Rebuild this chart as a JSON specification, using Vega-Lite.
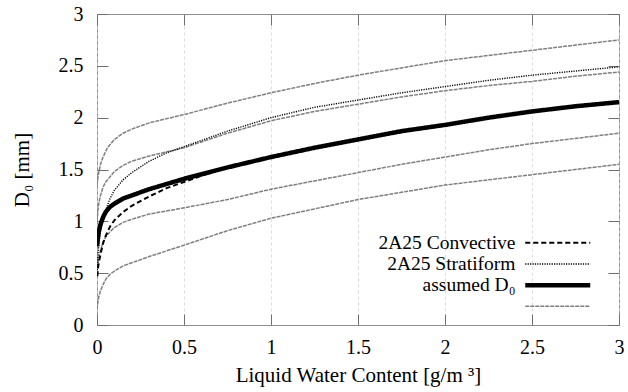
{
  "$schema": "https://vega.github.io/schema/vega-lite/v6.json",
  "width": 522,
  "height": 311,
  "autosize": {"type": "none"},
  "padding": {"left": 97, "top": 14, "right": 9, "bottom": 67},
  "background": "white",
  "config": {
    "view": {"stroke": "#8f8f8f", "strokeWidth": 1},
    "font": "Liberation Serif",
    "axis": {
      "labelFont": "Liberation Serif",
      "titleFont": "Liberation Serif",
      "labelFontSize": 20,
      "titleFontSize": 21,
      "titleFontWeight": "normal",
      "labelColor": "#000",
      "titleColor": "#000",
      "domain": false,
      "tickSize": -11,
      "tickColor": "#6f6f6f",
      "tickWidth": 1,
      "labelPadding": 23,
      "labelFlush": false,
      "labelOverlap": false
    },
    "legend": {
      "labelFont": "Liberation Serif",
      "labelFontSize": 19.5,
      "labelColor": "#000",
      "padding": 0,
      "rowPadding": 0
    }
  },
  "data": {
    "values": [
      {"s":"g1","cat":"other","x":0,"y":1.35},{"s":"g1","cat":"other","x":0.005,"y":1.42},{"s":"g1","cat":"other","x":0.01,"y":1.47},{"s":"g1","cat":"other","x":0.02,"y":1.55},{"s":"g1","cat":"other","x":0.035,"y":1.62},{"s":"g1","cat":"other","x":0.06,"y":1.71},{"s":"g1","cat":"other","x":0.1,"y":1.79},{"s":"g1","cat":"other","x":0.15,"y":1.85},{"s":"g1","cat":"other","x":0.2,"y":1.89},{"s":"g1","cat":"other","x":0.3,"y":1.95},{"s":"g1","cat":"other","x":0.5,"y":2.03},{"s":"g1","cat":"other","x":0.75,"y":2.14},{"s":"g1","cat":"other","x":1.0,"y":2.24},{"s":"g1","cat":"other","x":1.25,"y":2.33},{"s":"g1","cat":"other","x":1.5,"y":2.41},{"s":"g1","cat":"other","x":1.75,"y":2.48},{"s":"g1","cat":"other","x":2.0,"y":2.55},{"s":"g1","cat":"other","x":2.25,"y":2.6},{"s":"g1","cat":"other","x":2.5,"y":2.65},{"s":"g1","cat":"other","x":2.75,"y":2.7},{"s":"g1","cat":"other","x":3,"y":2.75},
      {"s":"g2","cat":"other","x":0,"y":1.0},{"s":"g2","cat":"other","x":0.005,"y":1.1},{"s":"g2","cat":"other","x":0.01,"y":1.17},{"s":"g2","cat":"other","x":0.02,"y":1.25},{"s":"g2","cat":"other","x":0.035,"y":1.33},{"s":"g2","cat":"other","x":0.05,"y":1.38},{"s":"g2","cat":"other","x":0.075,"y":1.43},{"s":"g2","cat":"other","x":0.1,"y":1.48},{"s":"g2","cat":"other","x":0.15,"y":1.54},{"s":"g2","cat":"other","x":0.2,"y":1.58},{"s":"g2","cat":"other","x":0.3,"y":1.63},{"s":"g2","cat":"other","x":0.5,"y":1.71},{"s":"g2","cat":"other","x":0.75,"y":1.85},{"s":"g2","cat":"other","x":1.0,"y":1.97},{"s":"g2","cat":"other","x":1.25,"y":2.06},{"s":"g2","cat":"other","x":1.5,"y":2.13},{"s":"g2","cat":"other","x":1.75,"y":2.2},{"s":"g2","cat":"other","x":2.0,"y":2.26},{"s":"g2","cat":"other","x":2.25,"y":2.31},{"s":"g2","cat":"other","x":2.5,"y":2.35},{"s":"g2","cat":"other","x":2.75,"y":2.4},{"s":"g2","cat":"other","x":3,"y":2.44},
      {"s":"g3","cat":"other","x":0,"y":0.55},{"s":"g3","cat":"other","x":0.005,"y":0.6},{"s":"g3","cat":"other","x":0.01,"y":0.65},{"s":"g3","cat":"other","x":0.02,"y":0.72},{"s":"g3","cat":"other","x":0.035,"y":0.8},{"s":"g3","cat":"other","x":0.05,"y":0.85},{"s":"g3","cat":"other","x":0.075,"y":0.9},{"s":"g3","cat":"other","x":0.1,"y":0.94},{"s":"g3","cat":"other","x":0.15,"y":0.99},{"s":"g3","cat":"other","x":0.2,"y":1.02},{"s":"g3","cat":"other","x":0.3,"y":1.07},{"s":"g3","cat":"other","x":0.5,"y":1.13},{"s":"g3","cat":"other","x":0.75,"y":1.21},{"s":"g3","cat":"other","x":1.0,"y":1.31},{"s":"g3","cat":"other","x":1.25,"y":1.39},{"s":"g3","cat":"other","x":1.5,"y":1.47},{"s":"g3","cat":"other","x":1.75,"y":1.55},{"s":"g3","cat":"other","x":2.0,"y":1.62},{"s":"g3","cat":"other","x":2.25,"y":1.69},{"s":"g3","cat":"other","x":2.5,"y":1.75},{"s":"g3","cat":"other","x":2.75,"y":1.8},{"s":"g3","cat":"other","x":3,"y":1.85},
      {"s":"g4","cat":"other","x":0,"y":0.15},{"s":"g4","cat":"other","x":0.005,"y":0.22},{"s":"g4","cat":"other","x":0.01,"y":0.27},{"s":"g4","cat":"other","x":0.02,"y":0.33},{"s":"g4","cat":"other","x":0.035,"y":0.39},{"s":"g4","cat":"other","x":0.05,"y":0.44},{"s":"g4","cat":"other","x":0.075,"y":0.49},{"s":"g4","cat":"other","x":0.1,"y":0.52},{"s":"g4","cat":"other","x":0.15,"y":0.57},{"s":"g4","cat":"other","x":0.2,"y":0.6},{"s":"g4","cat":"other","x":0.3,"y":0.66},{"s":"g4","cat":"other","x":0.5,"y":0.77},{"s":"g4","cat":"other","x":0.75,"y":0.91},{"s":"g4","cat":"other","x":1.0,"y":1.03},{"s":"g4","cat":"other","x":1.25,"y":1.12},{"s":"g4","cat":"other","x":1.5,"y":1.21},{"s":"g4","cat":"other","x":1.75,"y":1.28},{"s":"g4","cat":"other","x":2.0,"y":1.35},{"s":"g4","cat":"other","x":2.25,"y":1.4},{"s":"g4","cat":"other","x":2.5,"y":1.45},{"s":"g4","cat":"other","x":2.75,"y":1.5},{"s":"g4","cat":"other","x":3,"y":1.55},
      {"s":"strat","cat":"2A25 Stratiform","x":0.002,"y":0.53},{"s":"strat","cat":"2A25 Stratiform","x":0.005,"y":0.65},{"s":"strat","cat":"2A25 Stratiform","x":0.01,"y":0.77},{"s":"strat","cat":"2A25 Stratiform","x":0.02,"y":0.9},{"s":"strat","cat":"2A25 Stratiform","x":0.035,"y":1.03},{"s":"strat","cat":"2A25 Stratiform","x":0.05,"y":1.11},{"s":"strat","cat":"2A25 Stratiform","x":0.075,"y":1.22},{"s":"strat","cat":"2A25 Stratiform","x":0.1,"y":1.3},{"s":"strat","cat":"2A25 Stratiform","x":0.15,"y":1.4},{"s":"strat","cat":"2A25 Stratiform","x":0.2,"y":1.47},{"s":"strat","cat":"2A25 Stratiform","x":0.3,"y":1.58},{"s":"strat","cat":"2A25 Stratiform","x":0.4,"y":1.66},{"s":"strat","cat":"2A25 Stratiform","x":0.5,"y":1.72},{"s":"strat","cat":"2A25 Stratiform","x":0.75,"y":1.87},{"s":"strat","cat":"2A25 Stratiform","x":1.0,"y":2.0},{"s":"strat","cat":"2A25 Stratiform","x":1.25,"y":2.1},{"s":"strat","cat":"2A25 Stratiform","x":1.5,"y":2.17},{"s":"strat","cat":"2A25 Stratiform","x":1.75,"y":2.24},{"s":"strat","cat":"2A25 Stratiform","x":2.0,"y":2.3},{"s":"strat","cat":"2A25 Stratiform","x":2.25,"y":2.36},{"s":"strat","cat":"2A25 Stratiform","x":2.5,"y":2.41},{"s":"strat","cat":"2A25 Stratiform","x":2.75,"y":2.45},{"s":"strat","cat":"2A25 Stratiform","x":3,"y":2.49},
      {"s":"conv","cat":"2A25 Convective","x":0.002,"y":0.47},{"s":"conv","cat":"2A25 Convective","x":0.005,"y":0.54},{"s":"conv","cat":"2A25 Convective","x":0.01,"y":0.6},{"s":"conv","cat":"2A25 Convective","x":0.02,"y":0.68},{"s":"conv","cat":"2A25 Convective","x":0.035,"y":0.79},{"s":"conv","cat":"2A25 Convective","x":0.05,"y":0.86},{"s":"conv","cat":"2A25 Convective","x":0.075,"y":0.95},{"s":"conv","cat":"2A25 Convective","x":0.1,"y":1.01},{"s":"conv","cat":"2A25 Convective","x":0.15,"y":1.09},{"s":"conv","cat":"2A25 Convective","x":0.2,"y":1.15},{"s":"conv","cat":"2A25 Convective","x":0.3,"y":1.24},{"s":"conv","cat":"2A25 Convective","x":0.4,"y":1.32},{"s":"conv","cat":"2A25 Convective","x":0.5,"y":1.38},{"s":"conv","cat":"2A25 Convective","x":0.6,"y":1.44},{"s":"conv","cat":"2A25 Convective","x":0.75,"y":1.52},{"s":"conv","cat":"2A25 Convective","x":1.0,"y":1.62},{"s":"conv","cat":"2A25 Convective","x":1.5,"y":1.79},{"s":"conv","cat":"2A25 Convective","x":2.0,"y":1.93},{"s":"conv","cat":"2A25 Convective","x":2.5,"y":2.06},{"s":"conv","cat":"2A25 Convective","x":3,"y":2.15},
      {"s":"thick","cat":"assumed  D₀","x":0,"y":0.76},{"s":"thick","cat":"assumed  D₀","x":0.005,"y":0.84},{"s":"thick","cat":"assumed  D₀","x":0.01,"y":0.9},{"s":"thick","cat":"assumed  D₀","x":0.02,"y":0.97},{"s":"thick","cat":"assumed  D₀","x":0.035,"y":1.04},{"s":"thick","cat":"assumed  D₀","x":0.05,"y":1.09},{"s":"thick","cat":"assumed  D₀","x":0.075,"y":1.14},{"s":"thick","cat":"assumed  D₀","x":0.1,"y":1.17},{"s":"thick","cat":"assumed  D₀","x":0.15,"y":1.22},{"s":"thick","cat":"assumed  D₀","x":0.2,"y":1.25},{"s":"thick","cat":"assumed  D₀","x":0.3,"y":1.31},{"s":"thick","cat":"assumed  D₀","x":0.4,"y":1.36},{"s":"thick","cat":"assumed  D₀","x":0.5,"y":1.41},{"s":"thick","cat":"assumed  D₀","x":0.75,"y":1.52},{"s":"thick","cat":"assumed  D₀","x":1.0,"y":1.62},{"s":"thick","cat":"assumed  D₀","x":1.25,"y":1.71},{"s":"thick","cat":"assumed  D₀","x":1.5,"y":1.79},{"s":"thick","cat":"assumed  D₀","x":1.75,"y":1.87},{"s":"thick","cat":"assumed  D₀","x":2.0,"y":1.93},{"s":"thick","cat":"assumed  D₀","x":2.25,"y":2.0},{"s":"thick","cat":"assumed  D₀","x":2.5,"y":2.06},{"s":"thick","cat":"assumed  D₀","x":2.75,"y":2.11},{"s":"thick","cat":"assumed  D₀","x":3,"y":2.15}
    ]
  },
  "resolve": {"axis": {"x": "independent", "y": "independent"}},
  "layer": [
    {
      "mark": {"type": "line", "strokeCap": "butt", "clip": true},
      "encoding": {
        "x": {
          "field": "x", "type": "quantitative",
          "scale": {"domain": [0, 3], "nice": false, "zero": false},
          "axis": {
            "orient": "bottom",
            "title": "Liquid Water Content [g/m ³]",
            "values": [0, 0.5, 1, 1.5, 2, 2.5, 3],
            "format": "~g",
            "labelFont": "Liberation Serif",
            "grid": true, "gridDash": [3, 3], "gridColor": "#d0d0d0", "gridWidth": 0.8,
            "titlePadding": 7
          }
        },
        "y": {
          "field": "y", "type": "quantitative",
          "scale": {"domain": [0, 3], "nice": false, "zero": false},
          "axis": {
            "orient": "left",
            "title": "D₀ [mm]",
            "values": [0, 0.5, 1, 1.5, 2, 2.5, 3],
            "format": "~g",
            "labelFont": "Liberation Serif",
            "grid": false,
            "labelPadding": 25,
            "titlePadding": 26
          }
        },
        "detail": {"field": "s"},
        "color": {
          "field": "cat", "type": "nominal",
          "scale": {"domain": ["2A25 Convective", "2A25 Stratiform", "assumed  D₀", "other"], "range": ["#000000", "#000000", "#000000", "#7f7f7f"]},
          "legend": {
            "title": null, "orient": "none", "legendX": 451, "legendY": 219,
            "symbolType": "M-6.5,0H6.5", "symbolSize": 100,
            "labelAlign": "right", "labelOffset": -52, "labelLimit": 300, "rowPadding": 0.2,
            "labelExpr": "datum.label == 'other' ? '' : datum.label"
          }
        },
        "strokeDash": {
          "field": "cat", "type": "nominal",
          "scale": {"type": "ordinal", "domain": ["2A25 Convective", "2A25 Stratiform", "assumed  D₀", "other"], "range": [[5, 3], [1.2, 1.2], [1, 0], [4, 1]]},
          "legend": {
            "title": null, "orient": "none", "legendX": 451, "legendY": 219,
            "symbolType": "M-6.5,0H6.5", "symbolSize": 100,
            "labelAlign": "right", "labelOffset": -52, "labelLimit": 300, "rowPadding": 0.2,
            "labelExpr": "datum.label == 'other' ? '' : datum.label"
          }
        },
        "strokeWidth": {
          "field": "cat", "type": "nominal",
          "scale": {"type": "ordinal", "domain": ["2A25 Convective", "2A25 Stratiform", "assumed  D₀", "other"], "range": [2, 1.4, 4.5, 1.5]},
          "legend": {
            "title": null, "orient": "none", "legendX": 451, "legendY": 219,
            "symbolType": "M-6.5,0H6.5", "symbolSize": 100,
            "labelAlign": "right", "labelOffset": -52, "labelLimit": 300, "rowPadding": 0.2,
            "labelExpr": "datum.label == 'other' ? '' : datum.label"
          }
        }
      }
    },
    {
      "mark": {"type": "point", "opacity": 0},
      "encoding": {
        "x": {
          "field": "x", "type": "quantitative",
          "axis": {"orient": "top", "labels": false, "title": null, "grid": false, "values": [0, 0.5, 1, 1.5, 2, 2.5, 3]}
        },
        "y": {
          "field": "y", "type": "quantitative",
          "axis": {"orient": "right", "labels": false, "title": null, "grid": false, "values": [0, 0.5, 1, 1.5, 2, 2.5, 3]}
        }
      }
    }
  ]
}
